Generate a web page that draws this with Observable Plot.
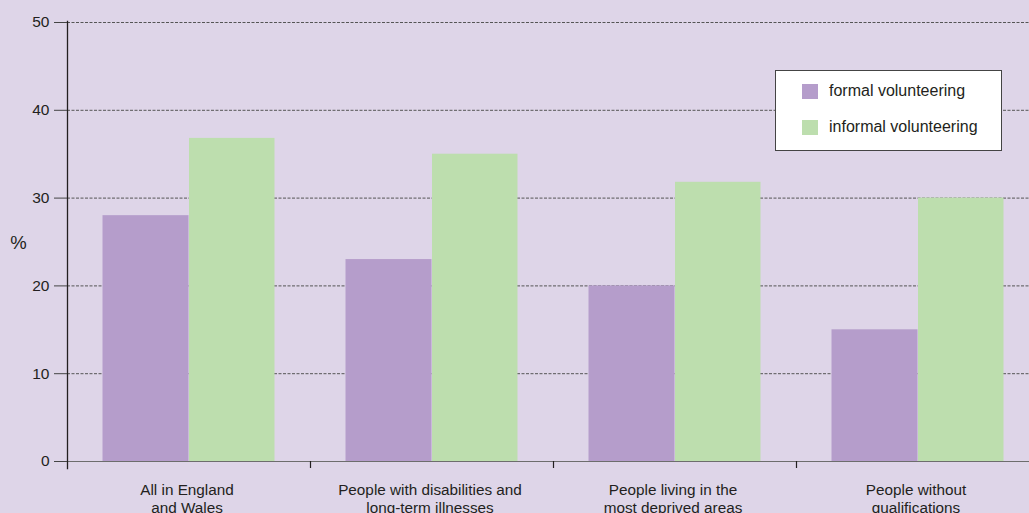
<!DOCTYPE html>
<html>
<head>
<meta charset="utf-8">
<script src="https://cdn.jsdelivr.net/npm/d3@7"></script>
<script src="https://cdn.jsdelivr.net/npm/@observablehq/plot@0.6"></script>
<style>
  html, body { margin: 0; padding: 0; background: #ded5e8; }
  #wrap { position: relative; width: 1029px; height: 513px; overflow: hidden; font-family: "Liberation Sans", Arial, sans-serif; }
  #legend { position: absolute; left: 775px; top: 70px; width: 225px; height: 79px; background: #fff; border: 1px solid #444; }
  .item { position: absolute; left: 26px; display: flex; align-items: center; font-size: 16px; color: #231f20; }
  .sw { width: 16px; height: 15px; margin-right: 11px; }
</style>
</head>
<body>
<div id="wrap"></div>
<script>
const categories = [
  "All in England\nand Wales",
  "People with disabilities and\nlong-term illnesses",
  "People living in the\nmost deprived areas",
  "People without\nqualifications"
];
const formal = [28, 23, 20, 15];
const informal = [36.8, 35, 31.8, 30];
const seriesNames = ["formal volunteering", "informal volunteering"];
const seriesColors = ["#b59dcb", "#bddeae"];
const yTicks = [0, 10, 20, 30, 40, 50];

const formalData = categories.map((c, i) => ({category: c, value: formal[i]}));
const informalData = categories.map((c, i) => ({category: c, value: informal[i]}));

const W = 1029, H = 513;
const marginLeft = 67, marginRight = -10;
const band = (W - marginRight - marginLeft) / categories.length;
const barW = 86;

const chart = Plot.plot({
  width: W,
  height: H,
  marginTop: 22,
  marginBottom: 52,
  marginLeft,
  marginRight,
  style: {background: "transparent", fontFamily: "Liberation Sans, Arial, sans-serif", color: "#231f20", overflow: "visible"},
  x: {domain: categories, padding: 0},
  y: {domain: [0, 50]},
  marks: [
    Plot.ruleY(yTicks.slice(1), {stroke: "#555", strokeDasharray: "3,1.5", strokeWidth: 1}),
    Plot.barY(formalData, {x: "category", y: "value", fill: seriesColors[0], insetLeft: band / 2 - barW, insetRight: band / 2}),
    Plot.barY(informalData, {x: "category", y: "value", fill: seriesColors[1], insetLeft: band / 2 + 0.5, insetRight: band / 2 - barW}),
    Plot.ruleY([0], {stroke: "#6d6d6d", strokeWidth: 1.2}),
    Plot.ruleX(categories.slice(1), {x: d => d, y1: 0, y2: 0, dx: -band / 2, insetBottom: -7, stroke: "#231f20", strokeWidth: 1.2}),
    Plot.frame({anchor: "left", stroke: "#231f20", strokeWidth: 1.3, insetBottom: -7, insetTop: -1}),
    Plot.axisY(yTicks, {tickSize: 13, tickPadding: 5, fontSize: 15.5, stroke: "#444", label: null}),
    Plot.axisX({tickSize: 0, tickPadding: 20, fontSize: 15.3, label: null, lineHeight: 1.22, dx: -2}),
    Plot.text(["%"], {frameAnchor: "left", dx: -49, dy: 1, fontSize: 18.5, textAnchor: "middle"})
  ]
});
const wrap = document.getElementById("wrap");
wrap.appendChild(chart);

const legend = document.createElement("div");
legend.id = "legend";
seriesNames.forEach((name, i) => {
  const item = document.createElement("div");
  item.className = "item";
  item.style.top = (11 + i * 36) + "px";
  item.innerHTML = `<span class="sw" style="background:${seriesColors[i]}"></span><span>${name}</span>`;
  legend.appendChild(item);
});
wrap.appendChild(legend);
</script>
</body>
</html>
